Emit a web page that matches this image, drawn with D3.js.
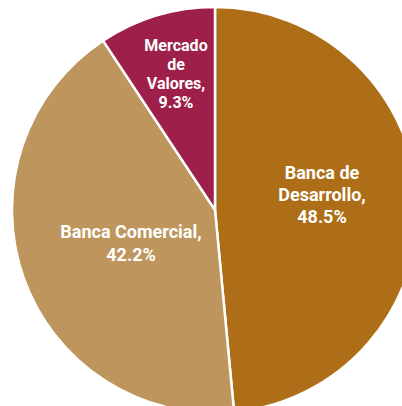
<!DOCTYPE html>
<html><head><meta charset="utf-8">
<script src="https://cdn.jsdelivr.net/npm/d3@7"></script>
<style>html,body{margin:0;padding:0;background:#fff;overflow:hidden}</style>
</head><body>
<svg id="c" width="402" height="406"></svg>
<script>
const categories = ["Banca de Desarrollo", "Banca Comercial", "Mercado de Valores"];
const values = [48.5, 42.2, 9.3];
const labelLines = [["Banca de", "Desarrollo,", "48.5%"], ["Banca Comercial,", "42.2%"], ["Mercado", "de", "Valores,", "9.3%"]];
const colors = ["#AD6E17", "#BD955D", "#9E1F49"];

const svg = d3.select("#c");
const cx = 215, cy = 210, r = 203;
const g = svg.append("g").attr("transform", `translate(${cx},${cy})`);
const pie = d3.pie().sort(null).value(d => d)(values);
const arc = d3.arc().innerRadius(0).outerRadius(r);
g.selectAll("path").data(pie).join("path")
  .attr("d", arc).attr("fill", (d, i) => colors[i])
  .attr("stroke", "#fff").attr("stroke-width", 2.5).attr("stroke-linejoin", "round");

const labelPos = [[107, -16], [-84, 33], [-39, -136]];
const fontSizes = [18, 18, 16];
const lineH = [22, 23, 19];
pie.forEach((d, i) => {
  const n = labelLines[i].length;
  const t = g.append("text").attr("text-anchor", "middle")
    .attr("font-family", "Roboto, sans-serif").attr("font-weight", "bold")
    .attr("font-size", fontSizes[i]).attr("fill", "#fff");
  labelLines[i].forEach((s, k) => {
    t.append("tspan").attr("x", labelPos[i][0])
      .attr("y", labelPos[i][1] + (k - (n - 1) / 2) * lineH[i])
      .attr("dominant-baseline", "central").text(s);
  });
});
</script>
</body></html>
